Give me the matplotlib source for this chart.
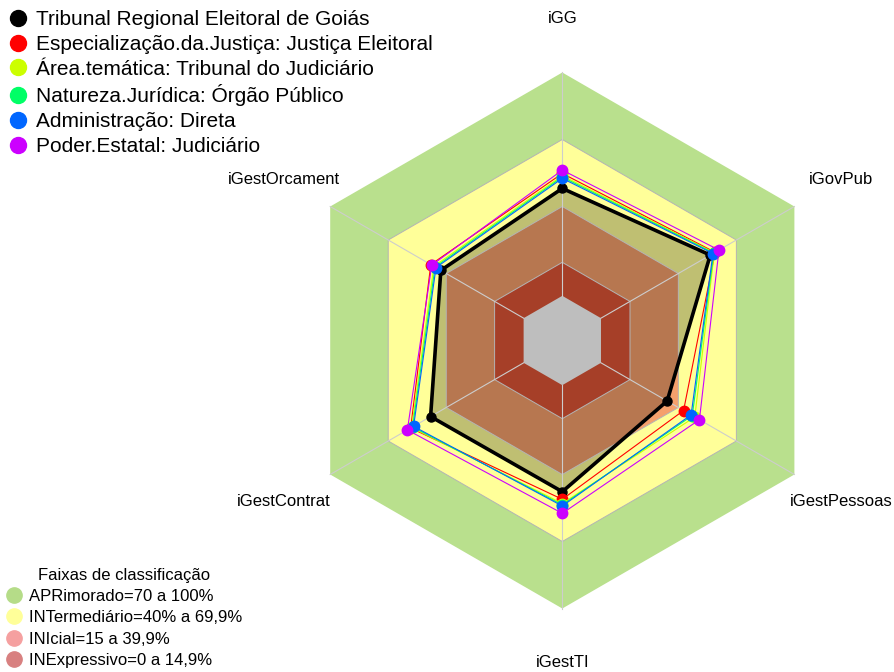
import numpy as np
import matplotlib
matplotlib.use('Agg')
import matplotlib.pyplot as plt
from matplotlib.lines import Line2D

plt.rcParams['font.family'] = ['Liberation Sans', 'DejaVu Sans']

# eixos do radar (sentido horario a partir do topo)
indicadores = ['iGG', 'iGovPub', 'iGestPessoas', 'iGestTI', 'iGestContrat', 'iGestOrcament']

# valores (%)
tre_goias = [48.1, 56.5, 34.2, 47.7, 48.1, 42.8]
justica_eleitoral = [54.8, 59.0, 42.7, 51.1, 58.4, 48.0]
tribunal_judiciario = [53.8, 58.6, 48.5, 53.0, 57.9, 46.4]
orgao_publico = [53.2, 58.3, 47.2, 53.6, 57.4, 45.8]
adm_direta = [52.6, 57.9, 46.6, 54.1, 56.9, 45.3]
poder_judiciario = [56.3, 61.0, 50.9, 57.4, 60.1, 47.5]

series = [tre_goias, justica_eleitoral, tribunal_judiciario,
          orgao_publico, adm_direta, poder_judiciario]
series_nomes = ['Tribunal Regional Eleitoral de Goiás',
                'Especialização.da.Justiça: Justiça Eleitoral',
                'Área.temática: Tribunal do Judiciário',
                'Natureza.Jurídica: Órgão Público',
                'Administração: Direta',
                'Poder.Estatal: Judiciário']
series_cores = ['black', '#FF0000', '#CCFF00', '#00FF66', '#0066FF', '#CC00FF']

# faixas de classificacao
faixas_lim = [100, 70, 40, 15]
faixas_cores = ['#B9E08D', '#FFFF99', '#F5A06C', '#DE5536']
faixas_nomes = ['APRimorado=70 a 100%', 'INTermediário=40% a 69,9%',
                'INIcial=15 a 39,9%', 'INExpressivo=0 a 14,9%']
faixas_cores_leg = ['#B5DC88', '#FFFF99', '#F5A0A0', '#D88080']

W, H = 895, 672
cx, cy, R = 562.3, 340.5, 268.0

fig = plt.figure(figsize=(W / 100, H / 100), dpi=100)
ax = fig.add_axes([0, 0, 1, 1])
ax.set_xlim(-cx / R, (W - cx) / R)
ax.set_ylim(-(H - cy) / R, cy / R)
ax.axis('off')

ang = np.deg2rad(90 - 60 * np.arange(len(indicadores)))


def raio(v):
    # centro vazio como no fmsb (seg=5)
    return 1 / 6 + 5 / 6 * np.asarray(v, dtype=float) / 100


def xy(v):
    r = raio(v)
    return r * np.cos(ang), r * np.sin(ang)


def fechar(a):
    return np.append(a, a[0])


# fundo das faixas
for lim, cor in zip(faixas_lim, faixas_cores):
    x, y = xy([lim] * 6)
    ax.fill(x, y, color=cor, lw=0, zorder=1)

# preenchimento da serie principal
x, y = xy(tre_goias)
ax.fill(x, y, color='black', alpha=0.25, lw=0, zorder=2)

# centro cinza
x, y = xy([0] * 6)
ax.fill(x, y, color='#BEBEBE', lw=0, zorder=3)

# grade
for lim in [15, 40, 70]:
    x, y = xy([lim] * 6)
    ax.plot(fechar(x), fechar(y), color='#B4B4B4', lw=0.7, zorder=4)
x0, y0 = xy([0] * 6)
x1, y1 = xy([100] * 6)
for i in range(6):
    ax.plot([x0[i], x1[i]], [y0[i], y1[i]], color='#CDCDCD', lw=0.8, zorder=4)

# rotulos dos eixos
for i, nome in enumerate(indicadores):
    ax.text(1.2 * np.cos(ang[i]), 1.2 * np.sin(ang[i]), nome, fontsize=12,
            ha='center', va='center', zorder=6)

# series
for k, (vals, cor) in enumerate(zip(series, series_cores)):
    x, y = xy(vals)
    if k == 0:
        ax.plot(fechar(x), fechar(y), color=cor, lw=2.6, zorder=5)
        ax.plot(x, y, 'o', color=cor, ms=6.5, zorder=5)
    else:
        ax.plot(fechar(x), fechar(y), color=cor, lw=0.8, zorder=5 + k * 0.1)
        ax.plot(x, y, 'o', color=cor, ms=7.5, zorder=5 + k * 0.1)

# legenda das series
h1 = [Line2D([], [], marker='o', ls='', color=c, ms=11.5) for c in series_cores]
fig.legend(h1, series_nomes, loc='upper left', bbox_to_anchor=(9.6 / W, 1 - 10 / H),
           frameon=False, fontsize=15, borderpad=0, borderaxespad=0,
           handlelength=0.8, handletextpad=0.46, labelspacing=0.28)

# legenda das faixas
h2 = [Line2D([], [], marker='o', ls='', color=c, ms=11) for c in faixas_cores_leg]
fig.legend(h2, faixas_nomes, title='Faixas de classificação', loc='lower left',
           bbox_to_anchor=(6 / W, 4 / H), frameon=False, fontsize=12,
           title_fontsize=12, borderpad=0, borderaxespad=0,
           handlelength=1.0, handletextpad=0.36, labelspacing=0.38)

fig.savefig('out.png', dpi=100)
